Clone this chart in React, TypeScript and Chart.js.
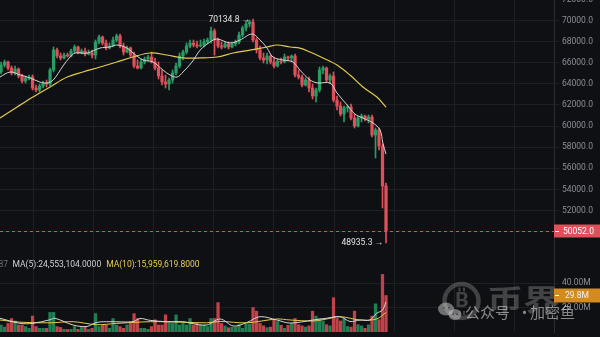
import { useEffect, useRef } from 'react';
import { Chart, registerables } from 'chart.js';

Chart.register(...registerables);

// ---------- data ----------
const OPEN = [
  65120, 65783, 66068, 65499, 65025, 65404, 64741, 64267, 64552, 64646,
  63604, 63415, 63794, 64078, 63983, 65310, 67205, 66636, 66447, 66731,
  66636, 67110, 67489, 66920, 67110, 66826, 66920, 66731, 67963, 68436,
  67868, 67394, 67584, 68152, 68531, 67584, 67015, 67394, 66731, 65689,
  65499, 66068, 66352, 66541, 66068, 65499, 64741, 64173, 63983, 64362,
  65025, 65689, 66636, 67015, 67584, 67868, 67678, 67584, 67678, 67963,
  68152, 69005, 68152, 67584, 67489, 67773, 67489, 67773, 67963, 68626,
  69289, 69668, 69858, 68152, 67205, 66447, 66257, 66636, 66068, 65689,
  66162, 66068, 66541, 66447, 66636, 64836, 64646, 63888, 64362, 63604,
  62846, 63415, 65310, 65499, 64362, 64741, 62467, 61899, 61141, 61709,
  61804, 60762, 60004, 60762, 60951, 60667, 60857, 59151, 59625, 58109, 54319,
];
const HIGH = [
  66068, 66257, 66162, 65689, 65689, 65499, 64931, 64741, 64836, 64836,
  63888, 63983, 64267, 64362, 65499, 67489, 67394, 66920, 66920, 66920,
  67299, 67678, 67584, 67299, 67394, 67205, 67205, 68152, 68626, 68531,
  68152, 67868, 68436, 68721, 68721, 67868, 67584, 67489, 67015, 66257,
  66352, 66541, 66731, 67015, 66447, 66068, 65310, 64836, 64552, 65310,
  65973, 66920, 67205, 67868, 68152, 68152, 68057, 68152, 68247, 68342,
  69384, 69195, 68342, 67963, 67963, 67963, 67963, 68152, 68910, 69479,
  69953, 70047, 70134.8, 68342, 67584, 66920, 66920, 66731, 66541, 66352,
  66447, 66826, 66636, 66731, 66826, 65310, 64836, 64552, 64646, 63983,
  63604, 65594, 65689, 65594, 64931, 65120, 62846, 62278, 61899, 61993,
  62088, 61141, 60951, 61141, 61046, 61046, 61046, 59814, 59814, 58298, 54603,
];
const LOW = [
  64931, 65594, 65310, 64836, 64836, 64552, 64078, 64078, 64362, 63415,
  63225, 63225, 63604, 63699, 63794, 65120, 66447, 66257, 66352, 66541,
  66541, 66920, 66826, 66826, 66636, 66731, 66447, 66352, 67773, 67678,
  67205, 67299, 67489, 67963, 67394, 66731, 66920, 66541, 65499, 65404,
  65404, 65878, 66162, 65973, 65310, 64457, 63888, 63604, 63415, 64078,
  64836, 65499, 66257, 66826, 67394, 67489, 67394, 67489, 67489, 67773,
  67868, 66731, 67394, 67299, 67394, 67299, 67394, 67584, 67773, 68436,
  69005, 69384, 67963, 66920, 66257, 65973, 65878, 65878, 65499, 65594,
  65878, 65973, 66162, 66068, 64646, 64457, 63699, 63794, 63225, 62562,
  62278, 63225, 64931, 64173, 63983, 62278, 61520, 60951, 60383, 61330,
  60572, 59814, 59909, 60383, 60478, 60288, 58962, 56972, 57730, 52235, 48935.3,
];
const CLOSE = [
  65783, 66068, 65499, 65025, 65404, 64741, 64267, 64552, 64646, 63604,
  63415, 63794, 64078, 63983, 65310, 67205, 66636, 66447, 66731, 66636,
  67110, 67489, 66920, 67110, 66826, 66920, 66731, 67963, 68436, 67868,
  67394, 67584, 68152, 68531, 67584, 67015, 67394, 66731, 65689, 65499,
  66068, 66352, 66541, 66068, 65499, 64741, 64173, 63983, 64362, 65025,
  65689, 66636, 67015, 67584, 67868, 67678, 67584, 67678, 67963, 68152,
  69005, 68152, 67584, 67489, 67773, 67489, 67773, 67963, 68626, 69289,
  69668, 69858, 68152, 67205, 66447, 66257, 66636, 66068, 65689, 66162,
  66068, 66541, 66447, 66636, 64836, 64646, 63888, 64362, 63604, 62846,
  63415, 65310, 65499, 64362, 64741, 62467, 61899, 61141, 61709, 61804,
  60762, 60004, 60762, 60951, 60667, 60857, 59151, 59625, 58109, 54319, 50052.0,
];
// volume in millions
const VOLUME = [
  5.7, 4, 7, 11, 9, 5.7, 5.7, 4.4, 3, 13,
  4.4, 3, 3, 3, 16, 16, 4.4, 3.7, 2.2, 2,
  2.2, 4.4, 2.2, 3.7, 4.4, 2.2, 3, 15, 4.4, 5.7,
  5.7, 3, 11, 5.7, 4.4, 3, 5.7, 7, 15, 11,
  3, 3, 2.2, 4.4, 10, 5.7, 5.7, 14, 7.5, 7,
  14, 5.7, 7, 5.7, 11, 5.7, 7, 5.7, 5.7, 4.4,
  11, 11, 24, 7, 5, 3.5, 4, 4, 6, 3,
  6.5, 6.5, 20, 17, 7, 5, 3.5, 4, 10, 8.5,
  5.5, 3, 5.5, 7, 11, 6, 5, 4, 5, 17,
  13, 11, 9, 6, 5, 28, 11, 9, 11, 4.5,
  4, 17, 6, 5, 3, 5.8, 13, 23, 10, 47, 29.8,
];

// moving-average lines, read as (candle index, value) pairs
const MA_FAST_IDX = [-0.3, 2.6, 5.4, 8.3, 11.1, 13.1, 14.9, 17.7, 19.7, 21.1, 24.6, 28.3, 31.1, 33.1, 36, 37.7, 40.6, 43.4, 46.3, 48.3, 50.3, 52, 54.6, 56.9, 59.7, 61.7, 65.4, 68.3, 71.7, 74, 76, 77.7, 80.6, 83.4, 85.4, 88.3, 90.6, 94, 96, 98.9, 101.1, 103.4, 106.3, 108.3, 109.1, 110];
const MA_FAST = [64650, 65120, 64850, 64550, 64170, 64080, 64360, 65690, 66540, 66920, 66920, 67390, 67490, 67680, 67390, 66920, 66260, 66070, 65300, 64830, 64640, 65120, 66070, 67200, 67960, 68250, 67870, 68150, 68720, 68150, 67390, 66540, 66260, 66070, 65300, 64360, 64080, 64080, 63130, 61990, 61140, 60760, 60290, 59620, 58390, 57340];
const MA_SLOW_IDX = [-0.3, 4.6, 9.1, 14, 18.9, 23.4, 28.3, 33.1, 37.7, 42.6, 47.4, 52, 56.9, 61.7, 66.3, 71.1, 76, 78.9, 82.6, 85.4, 88.3, 92, 96, 99.7, 103.4, 107.4, 110];
const MA_SLOW = [60760, 61800, 62750, 63700, 64640, 65120, 65590, 66070, 66540, 66920, 66730, 66450, 66450, 66540, 66920, 67200, 67490, 67680, 67490, 67390, 67010, 66450, 65780, 64830, 63700, 62750, 61800];

const VOL_MA5_IDX = [-0.3, 5.4, 9.1, 14, 15.4, 20.6, 24.5, 27.3, 31.1, 37.7, 39.7, 42.6, 47.3, 52, 54, 58.8, 62.6, 66.4, 70.2, 74, 78.8, 82.6, 89.2, 93, 96.9, 99.7, 102.6, 105.4, 107.3, 109, 110];
const VOL_MA5 = [11.2, 7.1, 7.1, 10, 11.2, 5.7, 4.5, 7.8, 8.4, 8.4, 11, 9.5, 8.4, 8.4, 7.3, 5.7, 10.6, 4.9, 7.7, 12.5, 9.8, 7.3, 9.8, 11.2, 12.5, 8.6, 9.8, 9.8, 15.2, 18, 24.55];
const VOL_MA10_IDX = [-0.3, 5.4, 14, 20.6, 27.3, 33, 42.6, 52, 58.8, 62.6, 70.2, 78.8, 82.6, 89.2, 93, 96.9, 102.6, 107.3, 110];
const VOL_MA10 = [9.8, 8.0, 7.5, 8.4, 6.0, 7.0, 8.4, 8.0, 7.5, 8.6, 7.5, 10.6, 9.8, 9.0, 10.6, 12.5, 9.8, 10.6, 15.96];

const PRICE_TICKS = [50000, 52000, 54000, 56000, 58000, 60000, 62000, 64000, 66000, 68000, 70000, 72000];
const VOLUME_TICKS = [20, 40];
const TIME_GRID = [9.13, 26.34, 43.56, 60.77, 77.99, 95.2, 112.41, 129.63, 146.84];

const VOL_TITLE_CUT = '87';
const VOL_MA5_TEXT = 'MA(5):24,553,104.0000';
const VOL_MA10_TEXT = 'MA(10):15,959,619.8000';
const WATERMARK_BRAND = '币界';
const WATERMARK_LEFT = '公众号';
const WATERMARK_DOT = '·';
const WATERMARK_RIGHT = '加密鱼';

// ---------- styles ----------
const BG = '#0f1013';
const GRID = '#1d1f23';
const BORDER = '#2b2d31';
const AXIS_TEXT = '#8a8f99';
const UP = '#2a9d66';
const DOWN = '#e0505a';
const UP_VOL = 'rgba(34,139,90,0.9)';
const DOWN_VOL = 'rgba(214,72,80,0.9)';
const MA_FAST_COLOR = '#d6d6d6';
const MA_SLOW_COLOR = '#e2cb4e';
const VOL_BOX = '#d38a1e';
const FONT = 'Roboto';
const X_MIN = -0.3;
const X_MAX = 158;

const isUp = (i: number) => CLOSE[i] >= OPEN[i];

function xScale() {
  return {
    type: 'linear' as const,
    min: X_MIN,
    max: X_MAX,
    offset: false,
    display: true,
    grid: { color: GRID, drawTicks: false, offset: false, lineWidth: 1 },
    border: { display: false },
    ticks: { display: false },
    afterBuildTicks: (s: any) => {
      s.ticks = TIME_GRID.map((v) => ({ value: v }));
    },
    afterFit: (s: any) => {
      s.height = 0;
      s.paddingLeft = 0;
      s.paddingRight = 0;
    },
  };
}

const priceOverlay = {
  id: 'priceOverlay',
  afterDraw(chart: any) {
    const { ctx, chartArea, scales } = chart;
    const x = scales.x;
    const y = scales.y;
    const last = CLOSE[CLOSE.length - 1];
    const yl = Math.round(y.getPixelForValue(last)) + 0.5;
    ctx.save();
    // dashed last-price line
    ctx.strokeStyle = DOWN;
    ctx.lineWidth = 1;
    ctx.setLineDash([3, 3]);
    ctx.beginPath();
    ctx.moveTo(chartArea.left, yl);
    ctx.lineTo(chartArea.right, yl);
    ctx.stroke();
    ctx.setLineDash([]);
    // last-price box
    ctx.fillStyle = DOWN;
    ctx.fillRect(chartArea.right, yl - 7, chart.width - chartArea.right, 13);
    ctx.strokeStyle = '#ffffff';
    ctx.beginPath();
    ctx.moveTo(chartArea.right + 1, yl);
    ctx.lineTo(chartArea.right + 5, yl);
    ctx.stroke();
    ctx.fillStyle = '#ffffff';
    ctx.font = `8.5px ${FONT}`;
    ctx.textBaseline = 'middle';
    ctx.textAlign = 'left';
    ctx.fillText(last.toFixed(1), chartArea.right + 9, yl);
    // max / min labels
    let hi = 0;
    let lo = 0;
    for (let i = 0; i < HIGH.length; i++) {
      if (HIGH[i] > HIGH[hi]) hi = i;
      if (LOW[i] < LOW[lo]) lo = i;
    }
    ctx.fillStyle = '#e4e4e4';
    ctx.textAlign = 'right';
    ctx.font = `8.5px ${FONT}`;
    ctx.fillText(`${HIGH[hi].toFixed(1)} →`, x.getPixelForValue(hi) - 3, y.getPixelForValue(HIGH[hi]) + 0.5);
    ctx.fillText(`${LOW[lo].toFixed(1)} →`, x.getPixelForValue(lo) - 3, y.getPixelForValue(LOW[lo]));
    ctx.restore();
  },
};

const volumeOverlay = {
  id: 'volumeOverlay',
  afterDraw(chart: any) {
    const { ctx, chartArea, scales } = chart;
    const y = scales.y;
    ctx.save();
    // title
    ctx.textBaseline = 'middle';
    ctx.textAlign = 'left';
    ctx.font = `8.5px ${FONT}`;
    ctx.fillStyle = '#6b6f78';
    ctx.fillText(VOL_TITLE_CUT, -1.5, 15);
    ctx.fillStyle = '#cfd0d3';
    const x1 = 12.5;
    ctx.fillText(VOL_MA5_TEXT, x1, 15);
    const w1 = ctx.measureText(VOL_MA5_TEXT).width;
    ctx.fillStyle = '#e8cf4f';
    ctx.fillText(VOL_MA10_TEXT, x1 + w1 + 5, 15);

    // watermark
    ctx.strokeStyle = 'rgba(150,150,150,0.38)';
    ctx.lineWidth = 4.5;
    ctx.beginPath();
    ctx.arc(461.5, 51, 17, 0, Math.PI * 2);
    ctx.stroke();
    ctx.fillStyle = 'rgba(150,150,150,0.38)';
    ctx.font = `bold 21px ${FONT}`;
    ctx.textAlign = 'center';
    ctx.fillText('B', 462, 52);
    ctx.fillRect(458.5, 37.5, 2, 4);
    ctx.fillRect(463, 37.5, 2, 4);
    ctx.fillRect(458.5, 61, 2, 4);
    ctx.fillRect(463, 61, 2, 4);
    ctx.save();
    ctx.translate(487, 50);
    ctx.scale(1.25, 1);
    ctx.textAlign = 'left';
    ctx.font = `bold 29px "Noto Sans CJK SC"`;
    ctx.fillStyle = 'rgba(140,140,140,0.42)';
    ctx.fillText(WATERMARK_BRAND, 0, 0);
    ctx.restore();
    // wechat bubbles
    ctx.fillStyle = 'rgba(205,205,205,0.5)';
    ctx.beginPath();
    ctx.ellipse(446, 59, 8, 6.5, 0, 0, Math.PI * 2);
    ctx.fill();
    ctx.beginPath();
    ctx.ellipse(455, 64.5, 6.5, 5.5, 0, 0, Math.PI * 2);
    ctx.fill();
    ctx.fillStyle = 'rgba(30,30,30,0.6)';
    ctx.fillRect(443, 57, 1.5, 1.5);
    ctx.fillRect(448, 57, 1.5, 1.5);
    ctx.fillRect(452.5, 63.5, 1.5, 1.5);
    ctx.fillRect(456.5, 63.5, 1.5, 1.5);
    ctx.fillStyle = 'rgba(215,215,215,0.6)';
    ctx.textAlign = 'left';
    ctx.font = `15px "Noto Sans CJK SC"`;
    ctx.fillText(WATERMARK_LEFT, 465, 62);
    ctx.fillText(WATERMARK_DOT, 517, 62);
    ctx.fillText(WATERMARK_RIGHT, 530, 62);

    // last volume box
    const lastV = VOLUME[VOLUME.length - 1];
    const yv = Math.round(y.getPixelForValue(lastV)) + 0.5;
    ctx.fillStyle = VOL_BOX;
    ctx.fillRect(chartArea.right, yv - 7, chart.width - chartArea.right, 14);
    ctx.strokeStyle = '#ffffff';
    ctx.lineWidth = 1;
    ctx.beginPath();
    ctx.moveTo(chartArea.right + 1, yv);
    ctx.lineTo(chartArea.right + 5, yv);
    ctx.stroke();
    ctx.fillStyle = '#f3f3f3';
    ctx.font = `8.5px ${FONT}`;
    ctx.textAlign = 'left';
    ctx.fillText(`${lastV.toFixed(1)}M`, chartArea.right + 11, yv);
    ctx.restore();
  },
};

export default function App() {
  const priceRef = useRef<HTMLCanvasElement>(null);
  const volRef = useRef<HTMLCanvasElement>(null);

  useEffect(() => {
    document.body.style.margin = '0';
    document.body.style.background = BG;
    Chart.defaults.font.family = FONT;

    const idx = OPEN.map((_, i) => i);
    const priceChart = new Chart(priceRef.current as HTMLCanvasElement, {
      type: 'bar',
      data: {
        datasets: [
          {
            type: 'line',
            data: MA_FAST_IDX.map((x, k) => ({ x, y: MA_FAST[k] })),
            borderColor: MA_FAST_COLOR,
            borderWidth: 1,
            pointRadius: 0,
            tension: 0.35,
            order: 0,
          } as any,
          {
            type: 'line',
            data: MA_SLOW_IDX.map((x, k) => ({ x, y: MA_SLOW[k] })),
            borderColor: MA_SLOW_COLOR,
            borderWidth: 1.2,
            pointRadius: 0,
            tension: 0.35,
            order: 0,
          } as any,
          {
            type: 'bar',
            data: idx.map((i) => ({ x: i, y: [OPEN[i], CLOSE[i]] })),
            backgroundColor: idx.map((i) => (isUp(i) ? UP : DOWN)),
            barThickness: 2.6,
            grouped: false,
            minBarLength: 1,
            borderWidth: 0,
            order: 1,
          } as any,
          {
            type: 'bar',
            data: idx.map((i) => ({ x: i, y: [LOW[i], HIGH[i]] })),
            backgroundColor: idx.map((i) => (isUp(i) ? UP : DOWN)),
            barThickness: 1,
            grouped: false,
            borderWidth: 0,
            order: 2,
          } as any,
        ],
      },
      options: {
        responsive: false,
        animation: false,
        events: [],
        layout: { padding: 0 },
        plugins: { legend: { display: false }, tooltip: { enabled: false } },
        scales: {
          x: xScale() as any,
          y: {
            type: 'linear',
            position: 'right',
            min: 48256.5,
            max: 71942,
            grid: { color: GRID, drawTicks: true, tickLength: 5, lineWidth: 1 },
            border: { display: true, color: BORDER },
            ticks: {
              color: AXIS_TEXT,
              font: { family: FONT, size: 8.5 },
              padding: 3,
              callback: (v: any) => Number(v).toFixed(1),
            },
            afterBuildTicks: (s: any) => {
              s.ticks = PRICE_TICKS.map((v) => ({ value: v }));
            },
            afterFit: (s: any) => {
              s.width = 46;
              s.paddingTop = 0;
              s.paddingBottom = 0;
            },
          } as any,
        },
      },
      plugins: [priceOverlay],
    });

    const volChart = new Chart(volRef.current as HTMLCanvasElement, {
      type: 'bar',
      data: {
        datasets: [
          {
            type: 'line',
            data: VOL_MA5_IDX.map((x, k) => ({ x, y: VOL_MA5[k] })),
            borderColor: MA_FAST_COLOR,
            borderWidth: 1,
            pointRadius: 0,
            tension: 0.35,
            order: 0,
          } as any,
          {
            type: 'line',
            data: VOL_MA10_IDX.map((x, k) => ({ x, y: VOL_MA10[k] })),
            borderColor: MA_SLOW_COLOR,
            borderWidth: 1,
            pointRadius: 0,
            tension: 0.35,
            order: 0,
          } as any,
          {
            type: 'bar',
            data: idx.map((i) => ({ x: i, y: VOLUME[i] })),
            backgroundColor: idx.map((i) => (isUp(i) ? UP_VOL : DOWN_VOL)),
            barThickness: 2.6,
            grouped: false,
            borderWidth: 0,
            order: 1,
          } as any,
        ],
      },
      options: {
        responsive: false,
        animation: false,
        events: [],
        layout: { padding: { top: 0, left: 0, right: 0, bottom: 5 } },
        plugins: { legend: { display: false }, tooltip: { enabled: false } },
        scales: {
          x: xScale() as any,
          y: {
            type: 'linear',
            position: 'right',
            min: 0,
            max: 66.94,
            grid: { color: GRID, drawTicks: true, tickLength: 5, lineWidth: 1 },
            border: { display: true, color: BORDER },
            ticks: {
              color: AXIS_TEXT,
              font: { family: FONT, size: 8.5 },
              padding: 3,
              callback: (v: any) => `${Number(v).toFixed(2)}M`,
            },
            afterBuildTicks: (s: any) => {
              s.ticks = VOLUME_TICKS.map((v) => ({ value: v }));
            },
            afterFit: (s: any) => {
              s.width = 46;
              s.paddingTop = 0;
              s.paddingBottom = 0;
            },
          } as any,
        },
      },
      plugins: [volumeOverlay],
    });

    return () => {
      priceChart.destroy();
      volChart.destroy();
    };
  }, []);

  return (
    <div style={{ position: 'relative', width: 600, height: 337, background: BG, overflow: 'hidden' }}>
      <canvas
        ref={priceRef}
        width={600}
        height={250}
        style={{ position: 'absolute', left: 0, top: 0, width: 600, height: 250 }}
      />
      <canvas
        ref={volRef}
        width={600}
        height={87}
        style={{ position: 'absolute', left: 0, top: 250, width: 600, height: 87 }}
      />
    </div>
  );
}
